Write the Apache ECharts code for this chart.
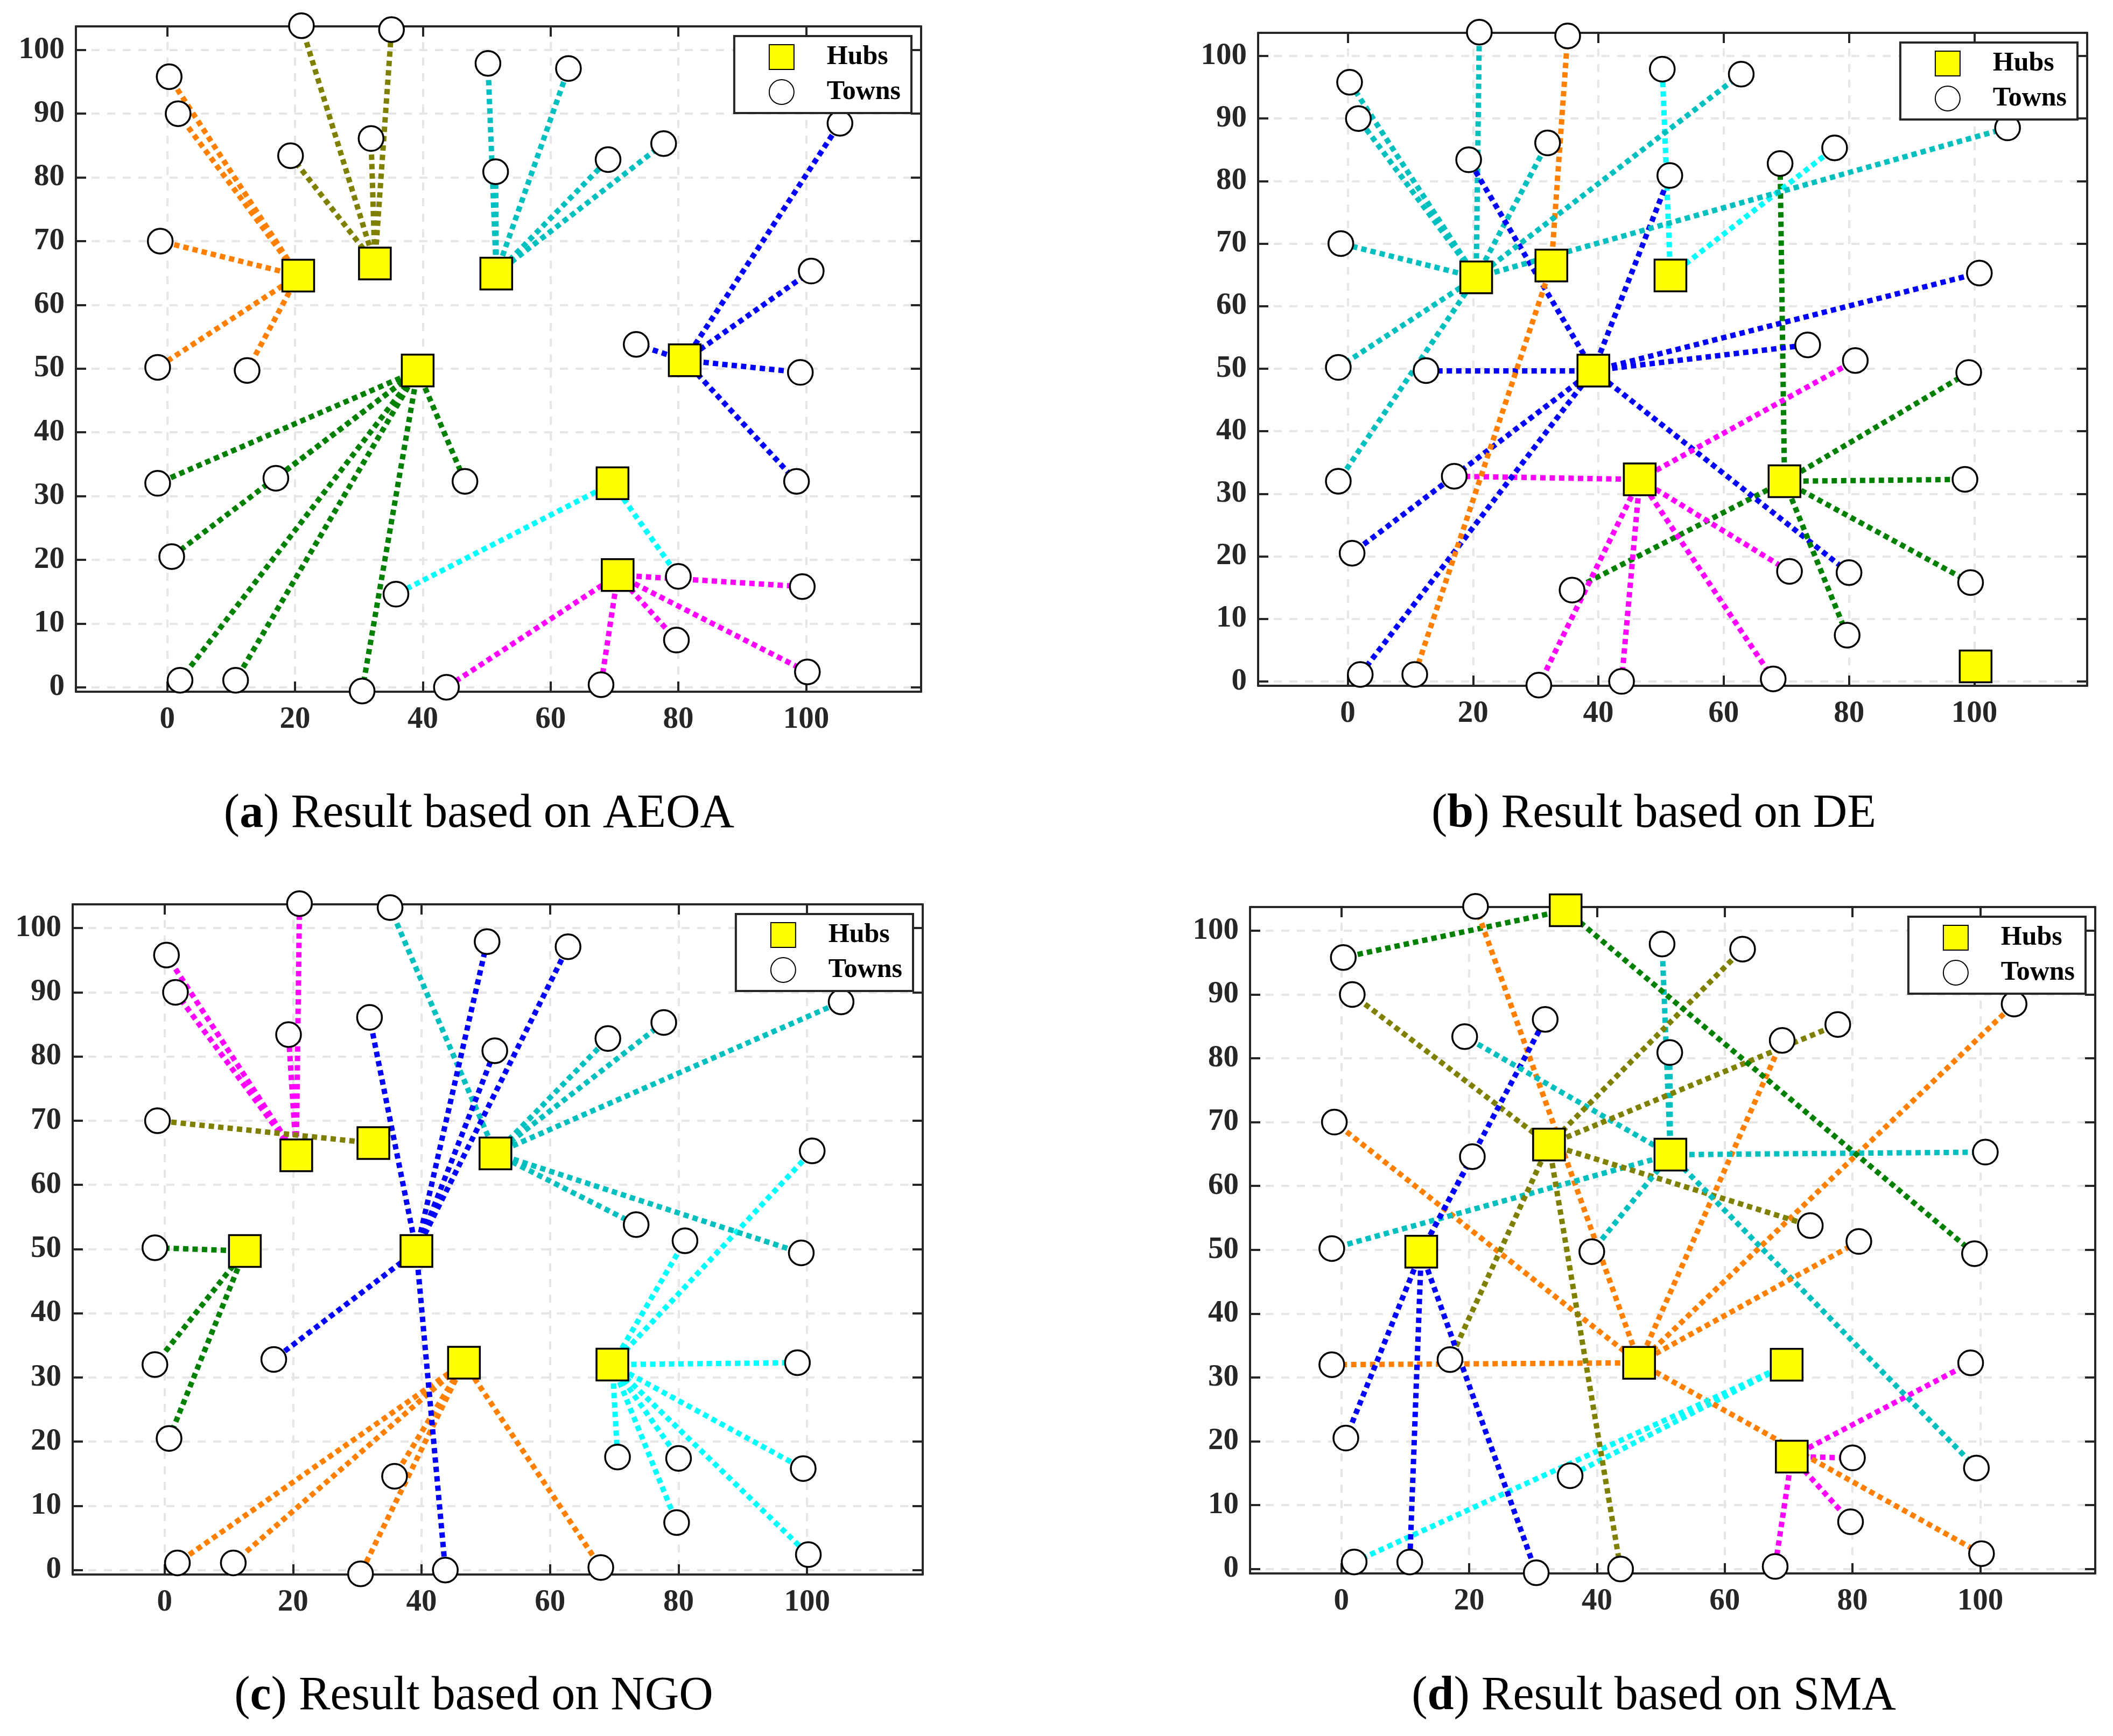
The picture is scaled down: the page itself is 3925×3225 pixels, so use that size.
<!DOCTYPE html>
<html>
<head>
<meta charset="utf-8">
<script src="https://cdn.jsdelivr.net/npm/echarts@6/dist/echarts.min.js"></script>
<style>
html,body{margin:0;padding:0;background:#ffffff;}
#chart{width:3925px;height:3225px;}
</style>
</head>
<body>
<div id="chart"></div>
<script>
// ---------- DATA ----------
// all 40 sites (towns + hub candidates)
const siteX = [0.3, 1.7, 21.0, 35.1, 31.9, 19.3, 50.2, 62.8, 51.4, 69.0,
               77.7, 105.3, -1.1, 100.8, -1.5, 12.5, 73.4, 99.1, -1.5, 17.0,
               46.6, 98.5, 0.7, 35.8, 80.0, 99.4, 79.7, 100.2, 2.0, 10.7,
               30.5, 43.7, 67.9, 20.5, 32.5, 51.5, 39.2, 81.0, 69.7, 70.5];
const siteY = [95.8, 90.0, 103.8, 103.2, 86.1, 83.4, 97.9, 97.1, 80.9, 82.8,
               85.3, 88.5, 70.0, 65.3, 50.2, 49.7, 53.8, 49.4, 32.0, 32.8,
               32.3, 32.3, 20.5, 14.6, 17.4, 15.8, 7.4, 2.4, 1.1, 1.1,
               -0.6, 0.0, 0.4, 64.6, 66.5, 64.9, 49.7, 51.3, 32.0, 17.6];

// hubs chosen by each algorithm (site indices)
const hubsAEOA = [33, 34, 35, 36, 37, 38, 39];
const hubsDE   = [33, 34, 35, 36, 20, 38, 27];
const hubsNGO  = [33, 34, 35, 36, 15, 20, 38];
const hubsSMA  = [3, 34, 35, 15, 20, 38, 39];

// allocation of each site to a hub (index into the hub list, -1 = the site is a hub)
const assignAEOA = [0,0,1,1,1,1,2,2,2,2, 2,4,0,4,0,0,4,4,3,3, 3,4,3,5,5,6,6,6,3,3, 3,6,6,-1,-1,-1,-1,-1,-1,-1];
const assignDE   = [0,0,0,1,0,3,2,0,3,5, 2,0,0,3,0,3,3,5,0,4, -1,5,3,5,3,5,5,-1,3,1, 4,4,4,-1,-1,-1,-1,4,-1,4];
const assignNGO  = [0,0,0,2,3,0,3,3,3,2, 2,2,1,6,4,-1,2,2,4,3, -1,6,4,5,6,6,6,6,5,5, 5,3,5,-1,-1,-1,-1,6,-1,6];
const assignSMA  = [0,1,4,-1,3,2,2,1,2,4, 1,4,4,2,2,-1,1,0,4,1, -1,6,3,5,6,2,6,4,5,3, 3,1,6,3,-1,-1,2,4,-1,-1];

const panelLetters = ['a', 'b', 'c', 'd'];
const panelMethods = ['AEOA', 'DE', 'NGO', 'SMA'];
const xTickLabels = [0, 20, 40, 60, 80, 100];
const yTickLabels = [0, 10, 20, 30, 40, 50, 60, 70, 80, 90, 100];
const legendNames = ['Hubs', 'Towns'];

// ---------- STYLE / LAYOUT ----------
const C = {orange:'#ff8000', olive:'#808000', dcyan:'#00bfbf', green:'#008000',
           blue:'#0000ff', cyan:'#00ffff', magenta:'#ff00ff'};
const hubColorSets = [
  [C.orange, C.olive, C.dcyan, C.green, C.blue, C.cyan, C.magenta],
  [C.dcyan, C.orange, C.cyan, C.blue, C.magenta, C.green, C.green],
  [C.magenta, C.olive, C.dcyan, C.blue, C.green, C.orange, C.cyan],
  [C.green, C.olive, C.dcyan, C.blue, C.orange, C.cyan, C.magenta]
];
const panels = [
  {hubs: hubsAEOA, assign: assignAEOA},
  {hubs: hubsDE, assign: assignDE},
  {hubs: hubsNGO, assign: assignNGO},
  {hubs: hubsSMA, assign: assignSMA}
];
const boxes = [
  {left:141, top:49, width:1570, height:1236},
  {left:2337, top:61, width:1540, height:1213},
  {left:135, top:1680, width:1579, height:1245},
  {left:2322, top:1685, width:1570, height:1238}
];
const capPos = [[890, 1513], [3072, 1513], [880, 3152], [3072, 3152]];
const W = 3925;
const X_MIN = -14.3, X_MAX = 118, Y_MIN = -0.7, Y_MAX = 103.7;
const AX = '#262626';
const FONT = 'Liberation Serif';

const isTick = (v, list) => list.some(t => Math.abs(t - v) < 1e-6);

const grids = [], xAxes = [], yAxes = [], series = [], legends = [], graphics = [];

panels.forEach((p, i) => {
  const b = boxes[i];
  grids.push({left:b.left, top:b.top, width:b.width, height:b.height, containLabel:false, show:false});
  const baseLine = {show:true, onZero:false, lineStyle:{color:AX, width:4}};
  const baseTick = {show:true, inside:true, length:19, lineStyle:{color:AX, width:4}};
  const split = {show:true, showMinLine:false, showMaxLine:false,
                 lineStyle:{color:'#e6e6e6', width:4, type:[15,14]}};
  const lbl = {color:AX, fontFamily:FONT, fontWeight:'bold', fontSize:57, showMinLabel:false, showMaxLabel:false};
  xAxes.push({gridIndex:i, type:'value', position:'bottom', min:X_MIN, max:X_MAX,
    minInterval:20, maxInterval:20, axisLine:baseLine, axisTick:baseTick, splitLine:split,
    axisLabel:Object.assign({}, lbl, {margin:24, formatter:v => isTick(v, xTickLabels) ? String(Math.round(v)) : ''})});
  xAxes.push({gridIndex:i, type:'value', position:'top', min:X_MIN, max:X_MAX,
    minInterval:20, maxInterval:20, axisLine:baseLine, axisTick:baseTick,
    splitLine:{show:false}, axisLabel:{show:false}});
  yAxes.push({gridIndex:i, type:'value', position:'left', min:Y_MIN, max:Y_MAX,
    minInterval:10, maxInterval:10, axisLine:baseLine, axisTick:baseTick, splitLine:split,
    axisLabel:Object.assign({}, lbl, {margin:21, formatter:v => isTick(v, yTickLabels) ? String(Math.round(v)) : ''})});
  yAxes.push({gridIndex:i, type:'value', position:'right', min:Y_MIN, max:Y_MAX,
    minInterval:10, maxInterval:10, axisLine:baseLine, axisTick:baseTick,
    splitLine:{show:false}, axisLabel:{show:false}});

  const cols = hubColorSets[i];
  const lineData = [];
  const towns = [];
  p.assign.forEach((a, s) => {
    if (a < 0) return;
    towns.push([siteX[s], siteY[s]]);
    const h = p.hubs[a];
    lineData.push({coords:[[siteX[h], siteY[h]], [siteX[s], siteY[s]]],
                   lineStyle:{color:cols[a], opacity:1}});
  });
  const hubPts = p.hubs.map(h => [siteX[h], siteY[h]]);

  series.push({type:'lines', coordinateSystem:'cartesian2d', xAxisIndex:2*i, yAxisIndex:2*i,
    polyline:false, silent:true, z:2, name:'links' + i,
    lineStyle:{width:10, type:[10, 7.5], cap:'butt', opacity:1}, data:lineData});
  series.push({type:'scatter', name:'Towns', xAxisIndex:2*i, yAxisIndex:2*i, clip:false, z:3,
    symbol:'circle', symbolSize:46, silent:true,
    itemStyle:{color:'#ffffff', borderColor:'#000000', borderWidth:3.5, opacity:1},
    data:towns});
  series.push({type:'scatter', name:'Hubs', xAxisIndex:2*i, yAxisIndex:2*i, clip:false, z:4,
    symbol:'rect', symbolSize:59, silent:true,
    itemStyle:{color:'#ffff00', borderColor:'#000000', borderWidth:3.5, opacity:1},
    data:hubPts});

  legends.push({show:true, orient:'vertical', selectedMode:false,
    right: W - (b.left + b.width - 18), top: b.top + 18,
    data: legendNames, itemWidth:46, itemHeight:46, itemGap:15,
    padding:[14, 20, 14, 64], borderColor:AX, borderWidth:4, backgroundColor:'#ffffff',
    textStyle:{fontFamily:FONT, fontWeight:'bold', fontSize:50, color:'#000000',
               lineHeight:46, padding:[0, 0, 0, 56]}});

  graphics.push({type:'text', x:capPos[i][0], y:capPos[i][1], silent:true,
    style:{text:'{n|(}{b|' + panelLetters[i] + '}{n|) Result based on ' + panelMethods[i] + '}',
      rich:{n:{fontFamily:FONT, fontSize:88, fill:'#000000'},
            b:{fontFamily:FONT, fontSize:88, fontWeight:'bold', fill:'#000000'}},
      align:'center', verticalAlign:'middle', textAlign:'center', textVerticalAlign:'middle'}});
});

const chart = echarts.init(document.getElementById('chart'), null, {renderer:'canvas'});
chart.setOption({
  backgroundColor:'#ffffff',
  animation:false,
  grid:grids, xAxis:xAxes, yAxis:yAxes, series:series, legend:legends,
  graphic:{elements:graphics}
});
</script>
</body>
</html>
